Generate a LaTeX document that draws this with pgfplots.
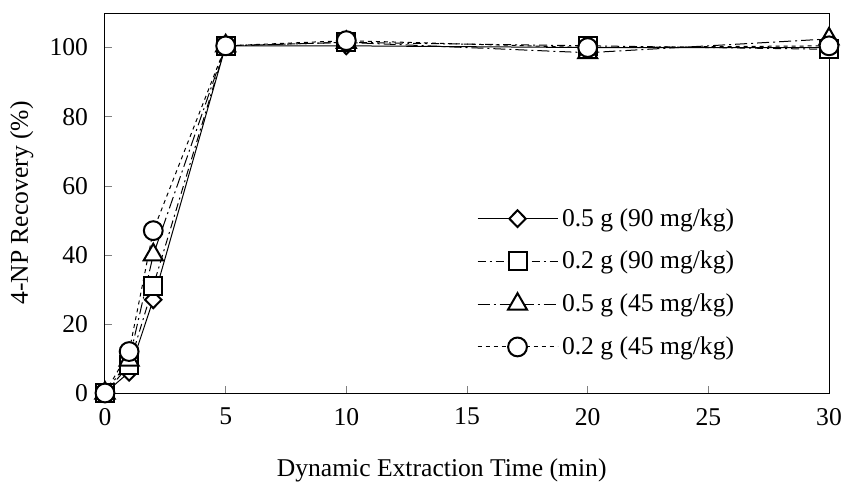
\documentclass[border=0pt]{standalone}
\usepackage{fontspec}
\setmainfont{Liberation Serif}
\usepackage{pgfplots}
\pgfplotsset{compat=1.18}
\usetikzlibrary{calc}

\begin{document}
\begin{tikzpicture}
\begin{axis}[
  scale only axis,
  width=362pt, height=190pt,
  xmin=0, xmax=30, ymin=0, ymax=110,
  xtick={0,5,...,30}, ytick={0,20,...,100},
  tick pos=left,
  tick align=inside,
  major tick length=3.5pt,
  axis line style={line width=0.5pt},
  font=\fontsize{12.8}{15}\selectfont,
  /pgf/number format/assume math mode=true,
  xticklabel style={yshift=-4pt},
  yticklabel style={xshift=-5pt},
  xlabel={Dynamic Extraction Time (min)},
  ylabel={4-NP Recovery (\%)},
  every axis x label/.style={at={(axis description cs:0.465,-0.203)},anchor=center},
  every axis y label/.style={at={(axis description cs:-0.115,0.5)},rotate=90,anchor=center},
  legend style={at={(0.505,0.29)},anchor=west,draw=none,fill=none,
    row sep=7pt,font=\fontsize{12.8}{15}\selectfont},
  legend cell align=left,
  legend image code/.code={\draw[#1,mark repeat=2,mark phase=2]
    plot coordinates {(0pt,0pt) (20pt,0pt) (40pt,0pt)};},
  every axis plot/.append style={black,line width=0.5pt,
    mark options={solid,fill=white,line width=1pt}},
]
\addplot[mark=diamond*,mark size=4.2pt,
  mark options={solid,fill=white,line width=1pt,xscale=1.3}] coordinates {
  (0,0) (1,6) (2,27) (5,100.5) (10,100.5) (20,100) (30,100)};
\addlegendentry{0.5 g (90 mg/kg)}
\addplot[mark=square*,mark size=4.5pt,dash pattern=on 4pt off 2pt on 1pt off 2pt] coordinates {
  (0,0) (1,8) (2,31) (5,100.5) (10,101.5) (20,100.5) (30,99.5)};
\addlegendentry{0.2 g (90 mg/kg)}
\addplot[mark=triangle*,mark size=5.5pt,dash pattern=on 6pt off 2pt on 1pt off 2pt] coordinates {
  (0,0) (1,9.5) (2,40) (5,100.5) (10,101.5) (20,98.5) (30,102.5)};
\addlegendentry{0.5 g (45 mg/kg)}
\addplot[mark=*,mark size=4.7pt,dash pattern=on 2pt off 2pt] coordinates {
  (0,0) (1,12) (2,47) (5,100.5) (10,102) (20,100) (30,100.5)};
\addlegendentry{0.2 g (45 mg/kg)}
\end{axis}
\pgfresetboundingbox
\path[use as bounding box] ($(current axis.south west)+(-52.5pt,-47.5pt)$)
  rectangle ($(current axis.north east)+(8pt,6.5pt)$);
\end{tikzpicture}
\end{document}
